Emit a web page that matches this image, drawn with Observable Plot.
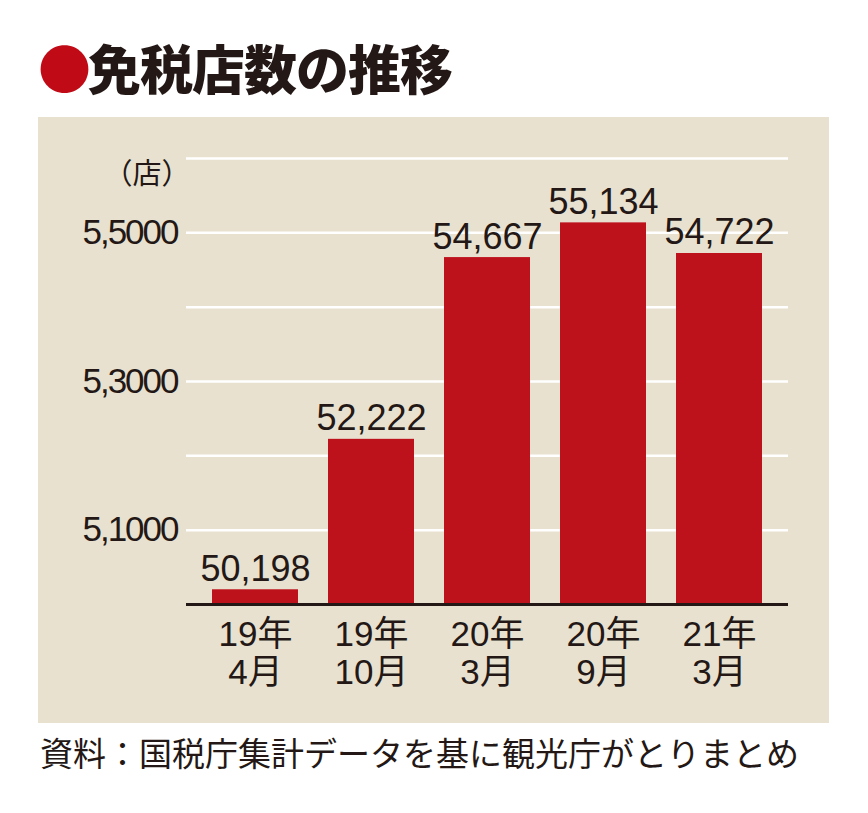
<!DOCTYPE html>
<html>
<head>
<meta charset="utf-8">
<script src="https://cdn.jsdelivr.net/npm/d3@7"></script>
<script src="https://cdn.jsdelivr.net/npm/@observablehq/plot@0.6"></script>
<style>
  html, body { margin: 0; padding: 0; background: #ffffff; }
  body { width: 868px; height: 813px; position: relative; overflow: hidden;
         font-family: "Liberation Sans", "Noto Sans CJK JP", sans-serif; color: #231815; }
  #title { position: absolute; left: 38px; top: 39px; font-family: "Noto Sans CJK JP", sans-serif;
           font-weight: 900; font-size: 53px; line-height: 56px; letter-spacing: -1px; white-space: nowrap; }
  #title .dot { color: #c00a16; font-size: 53px; margin-right: -2px; }
  #panel { position: absolute; left: 38px; top: 117px; width: 791px; height: 606px; background: #e9e1d0; }
  #panel svg { display: block; }
  #caption { position: absolute; left: 40px; top: 734px; font-family: "Noto Sans CJK JP", sans-serif;
             font-size: 33px; line-height: 36px; white-space: nowrap; color: #231815; }
</style>
</head>
<body>
<div id="title"><span class="dot">●</span>免税店数の推移</div>
<div id="panel"></div>
<div id="caption">資料：国税庁集計データを基に観光庁がとりまとめ</div>
<script>
const categories = ["19年\n4月", "19年\n10月", "20年\n3月", "20年\n9月", "21年\n3月"];
const values = [50198, 52222, 54667, 55134, 54722];
const valueLabels = ["50,198", "52,222", "54,667", "55,134", "54,722"];
const gridValues = [51000, 52000, 53000, 54000, 55000, 56000];
const yTickValues = [51000, 53000, 55000];
const yTickLabels = ["5,1000", "5,3000", "5,5000"];
const unitLabel = "（店）";
const baseValue = 50000;

const data = categories.map((c, i) => ({cat: c, value: values[i], label: valueLabels[i]}));
const tickLabelMap = new Map(yTickValues.map((v, i) => [v, yTickLabels[i]]));

const ink = "#231815";
const chart = Plot.plot({
  width: 791,
  height: 606,
  marginLeft: 148,
  marginRight: 41,
  marginTop: 41,
  marginBottom: 119,
  style: { background: "transparent", fontFamily: "'Liberation Sans', 'Noto Sans CJK JP', sans-serif", color: ink, overflow: "visible" },
  x: { domain: categories, paddingInner: 0.255, paddingOuter: 0.206, label: null },
  y: { domain: [baseValue, 56000], label: null },
  marks: [
    Plot.ruleY(gridValues, { stroke: "#ffffff", strokeWidth: 2.5 }),
    Plot.barY(data, { x: "cat", y1: baseValue, y2: "value", fill: "#bd111b" }),
    Plot.ruleY([baseValue], { stroke: ink, strokeWidth: 3 }),
    Plot.text(data, { x: "cat", y: "value", text: "label", dy: -9, lineAnchor: "bottom",
                      fontSize: 36, fill: ink, style: "letter-spacing:1.6px" }),
    Plot.axisY(yTickValues, { tickSize: 0, tickPadding: 9, fontSize: 35, fill: ink,
                      tickFormat: d => tickLabelMap.get(d), label: null }),
    Plot.text([unitLabel], { frameAnchor: "top-left", dx: 4, dy: 5, textAnchor: "end",
                      fontSize: 29, fill: ink, fontFamily: "'Noto Sans CJK JP', sans-serif" }),
    Plot.axisX({ tickSize: 0, tickPadding: 15, fontSize: 35, lineHeight: 1.07, fill: ink,
                      label: null })
  ]
});
document.getElementById("panel").appendChild(chart);
chart.querySelectorAll("[aria-label='y-axis tick label'] text").forEach(t => t.setAttribute("letter-spacing", "-2"));
</script>
</body>
</html>
